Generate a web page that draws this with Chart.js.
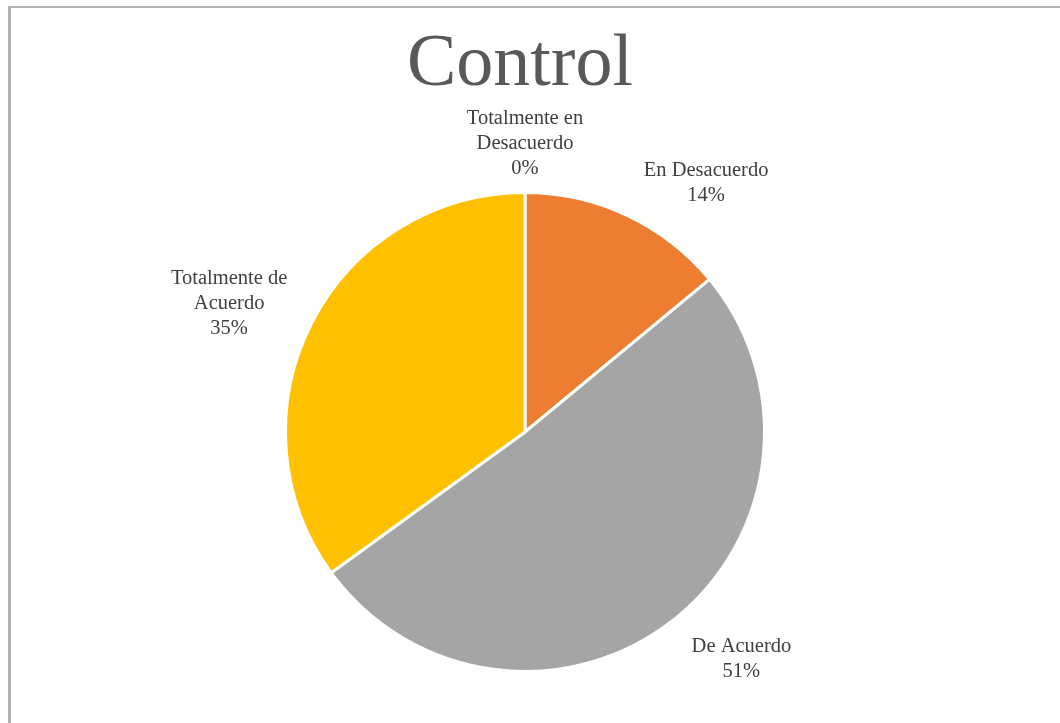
<!DOCTYPE html>
<html>
<head>
<meta charset="utf-8">
<script src="https://cdn.jsdelivr.net/npm/chart.js@4/dist/chart.umd.min.js"></script>
<style>
  html, body { margin: 0; padding: 0; background: #fff; overflow: hidden; }
  .frame {
    position: absolute; left: 8px; top: 6px; width: 1060px; height: 730px;
    border-left: 3px solid #b0b0b0; border-top: 2px solid #b0b0b0;
  }
  #wrap { position: absolute; left: 0; top: 0; width: 1060px; height: 723px; }
</style>
</head>
<body>
<div class="frame"></div>
<div id="wrap"><canvas id="pie"></canvas></div>
<script>
// chart values
const titleText = "Control";
const categories = ["Totalmente en Desacuerdo", "En Desacuerdo", "De Acuerdo", "Totalmente de Acuerdo"];
const labelLines = [["Totalmente en", "Desacuerdo"], ["En Desacuerdo"], ["De Acuerdo"], ["Totalmente de", "Acuerdo"]];
const values = [0, 14, 51, 35];
const colors = ["#4472C4", "#ED7D31", "#A5A5A5", "#FFC000"];

const total = values.reduce((a, b) => a + b, 0);

// title + outside data labels, placed from each arc's geometry
const outsideLabels = {
  id: "outsideLabels",
  afterDraw(chart) {
    const ctx = chart.ctx;
    const arcs = chart.getDatasetMeta(0).data;
    ctx.save();
    ctx.textAlign = "center";
    ctx.textBaseline = "middle";

    ctx.fillStyle = "#595959";
    ctx.font = "74px 'Liberation Serif', 'Times New Roman', serif";
    ctx.fillText(titleText, arcs[0].x - 5, 66);

    ctx.font = "20.5px 'Liberation Serif', 'Times New Roman', serif";
    ctx.fillStyle = "#404040";
    const lh = 25;
    arcs.forEach((arc, i) => {
      const lines = labelLines[i].concat([Math.round(values[i] / total * 100) + "%"]);
      const mid = (arc.startAngle + arc.endAngle) / 2;
      const r = arc.outerRadius + 16;
      const ax = arc.x + Math.cos(mid) * r;
      const ay = arc.y + Math.sin(mid) * r;
      const w = Math.max(...lines.map((l) => ctx.measureText(l).width));
      const h = lines.length * lh;
      const kx = Math.max(-1, Math.min(1, Math.cos(mid) * 3));
      const ky = Math.max(-1, Math.min(1, Math.sin(mid)));
      const cx = ax + kx * (w / 2 + 10);
      const cy = ay + ky * h / 2 + 5;
      lines.forEach((l, j) => {
        ctx.fillText(l, cx, cy - h / 2 + lh / 2 + j * lh);
      });
    });
    ctx.restore();
  },
};

new Chart(document.getElementById("pie"), {
  type: "pie",
  data: {
    labels: categories,
    datasets: [{
      data: values,
      backgroundColor: colors,
      borderColor: "#ffffff",
      borderWidth: 3,
    }],
  },
  options: {
    responsive: true,
    maintainAspectRatio: false,
    animation: false,
    layout: { padding: { left: 284, right: 294, top: 191, bottom: 50 } },
    plugins: {
      legend: { display: false },
      tooltip: { enabled: false },
      title: { display: false },
    },
  },
  plugins: [outsideLabels],
});
</script>
</body>
</html>
